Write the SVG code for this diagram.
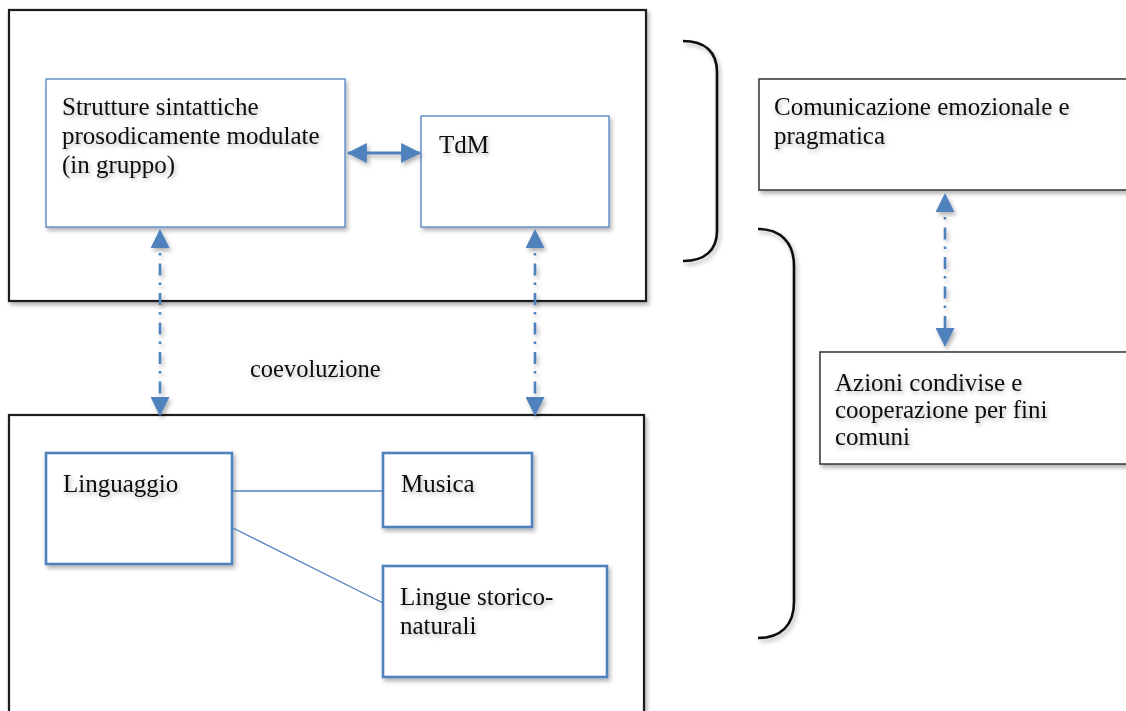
<svg xmlns="http://www.w3.org/2000/svg" width="1126" height="711" viewBox="0 0 1126 711">
  <defs>
    <filter id="shadow" x="-10%" y="-10%" width="130%" height="130%">
      <feDropShadow dx="2" dy="3" stdDeviation="2" flood-color="#000" flood-opacity="0.3"/>
    </filter>
    <!-- user-space region so straight (zero-width) lines keep their shadow -->
    <filter id="lshadow" filterUnits="userSpaceOnUse" x="0" y="0" width="1126" height="711">
      <feDropShadow dx="2" dy="3" stdDeviation="2" flood-color="#000" flood-opacity="0.3"/>
    </filter>
    <filter id="tshadow" x="-10%" y="-30%" width="130%" height="170%">
      <feDropShadow dx="1.5" dy="2.5" stdDeviation="2" flood-color="#000" flood-opacity="0.28"/>
    </filter>
    <marker id="head" viewBox="0 0 18 18" refX="17" refY="9" markerWidth="19" markerHeight="19" markerUnits="userSpaceOnUse" orient="auto-start-reverse">
      <path d="M0,0 L18,9 L0,18 Z" fill="#4f81bd"/>
    </marker>
    <marker id="headBig" viewBox="0 0 18 18" refX="17" refY="9" markerWidth="20" markerHeight="20" markerUnits="userSpaceOnUse" orient="auto-start-reverse">
      <path d="M0,0 L18,9 L0,18 Z" fill="#4f81bd"/>
    </marker>
  </defs>
  <style>
    .outer { fill: #fff; stroke: #1a1a1a; stroke-width: 2.2; filter: url(#shadow); }
    .thin { fill: #fff; stroke: #5b8bc6; stroke-width: 1.4; filter: url(#shadow); }
    .thick { fill: #fff; stroke: #4f81bd; stroke-width: 2.6; filter: url(#shadow); }
    .side { fill: #fff; stroke: #333; stroke-width: 1.5; filter: url(#shadow); }
    .lbl { font-family: "Liberation Serif", "Times New Roman", serif; font-size: 25px; fill: #111; filter: url(#tshadow); }
    .lbl2 { font-family: "Liberation Serif", "Times New Roman", serif; font-size: 25px; fill: #111; filter: url(#tshadow); }
    .dash { fill: none; stroke: #4f81bd; stroke-width: 2.6; stroke-dasharray: 12 7 2.5 8; stroke-dashoffset: -4; filter: url(#lshadow); }
    .solid { fill: none; stroke: #4f81bd; stroke-width: 3; filter: url(#lshadow); }
    .link { fill: none; stroke: #4f81bd; stroke-width: 1.3; }
    .brace { fill: none; stroke: #111; stroke-width: 2.6; filter: url(#shadow); }
  </style>

  <!-- upper container -->
  <g id="group-top">
    <rect class="outer" x="9" y="10" width="637" height="291"/>
  </g>
  <g id="node-strutture">
    <rect class="thin" x="46" y="79" width="299" height="148"/>
    <text class="lbl" x="62" y="115">Strutture sintattiche</text>
    <text class="lbl" x="62" y="144">prosodicamente modulate</text>
    <text class="lbl" x="62" y="173">(in gruppo)</text>
  </g>
  <g id="node-tdm">
    <rect class="thin" x="421" y="116" width="188" height="111"/>
    <text class="lbl" x="439" y="153">TdM</text>
  </g>

  <!-- lower container -->
  <g id="group-bottom">
    <rect class="outer" x="9" y="415" width="635" height="310"/>
  </g>
  <g id="node-linguaggio">
    <rect class="thick" x="46" y="453" width="186" height="111"/>
    <text class="lbl" x="63" y="492">Linguaggio</text>
  </g>
  <g id="node-musica">
    <rect class="thick" x="383" y="453" width="149" height="74"/>
    <text class="lbl" x="401" y="492">Musica</text>
  </g>
  <g id="node-lingue">
    <rect class="thick" x="383" y="566" width="224" height="111"/>
    <text class="lbl" x="400" y="605">Lingue storico-</text>
    <text class="lbl" x="400" y="634">naturali</text>
  </g>

  <!-- label between the containers -->
  <g id="label-coevoluzione">
    <text class="lbl" x="250" y="377" style="font-size:24.5px">coevoluzione</text>
  </g>

  <!-- right column -->
  <g id="node-comunicazione">
    <rect class="side" x="759" y="79" width="380" height="111"/>
    <text class="lbl2" x="774" y="115">Comunicazione emozionale e</text>
    <text class="lbl2" x="774" y="144">pragmatica</text>
  </g>
  <g id="node-azioni">
    <rect class="side" x="820" y="352" width="320" height="112"/>
    <text class="lbl2" x="835" y="391">Azioni condivise e</text>
    <text class="lbl2" x="835" y="418">cooperazione per fini</text>
    <text class="lbl2" x="835" y="445">comuni</text>
  </g>

  <!-- braces -->
  <g id="braces">
    <path class="brace" d="M683,41 C705,41 717,52 717,72 L717,231 C717,250 705,261 683,261"/>
    <path class="brace" d="M758,229 C781,229 794,243 794,266 L794,602 C794,625 781,638 758,638"/>
  </g>

  <!-- connectors -->
  <g id="connectors">
    <line class="solid" x1="348" y1="153" x2="420" y2="153" marker-start="url(#headBig)" marker-end="url(#headBig)"/>
    <line class="dash" x1="160" y1="230" x2="160" y2="415" marker-start="url(#head)" marker-end="url(#head)"/>
    <line class="dash" x1="535" y1="230" x2="535" y2="415" marker-start="url(#head)" marker-end="url(#head)"/>
    <line class="dash" x1="945" y1="194" x2="945" y2="346" marker-start="url(#head)" marker-end="url(#head)"/>
    <line class="link" x1="232" y1="491" x2="383" y2="491"/>
    <line class="link" x1="233" y1="528" x2="383" y2="603"/>
  </g>
</svg>
